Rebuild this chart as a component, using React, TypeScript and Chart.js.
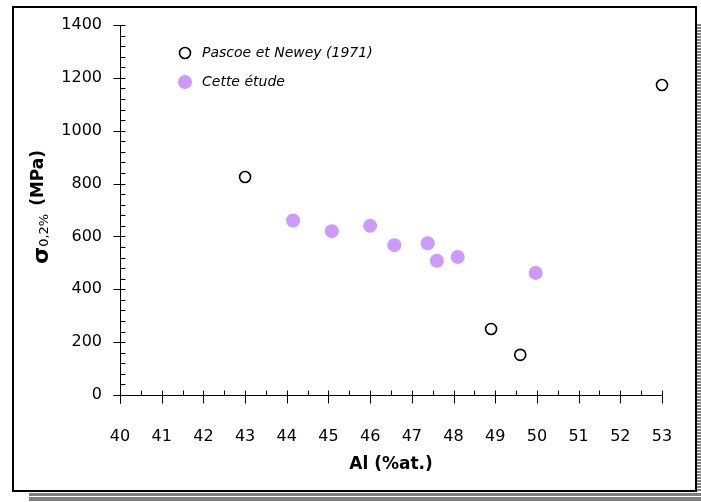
import React, { useEffect, useRef } from "react";
import { Chart, registerables } from "chart.js";

Chart.register(...registerables);

const pascoeX = [43, 48.9, 49.6, 53];
const pascoeY = [825, 250, 152, 1173];
const etudeX = [44.15, 45.08, 46.0, 46.58, 47.38, 47.6, 48.1, 49.97];
const etudeY = [660, 620, 640, 567, 574, 508, 522, 462];
const seriesNames = ["Pascoe et Newey (1971)", "Cette étude"];
const xTitle = "Al (%at.)";
const yTitleMain = "σ";
const yTitleSub = "0,2%";
const yTitleUnit = "(MPa)";

const FONT = "'DejaVu Sans', sans-serif";
const PURPLE = "#cc99ff";

const decor = {
  id: "decor",
  beforeDraw(chart: any) {
    const ctx = chart.ctx;
    ctx.save();
    ctx.fillStyle = "#ffffff";
    ctx.fillRect(0, 0, chart.width, chart.height);
    ctx.fillStyle = "#808080";
    for (let y = 24; y < 492; y += 3) ctx.fillRect(697, y, 4, 2);
    ctx.fillRect(29, 493, 672, 3);
    ctx.fillRect(29, 497, 672, 4);
    ctx.strokeStyle = "#000";
    ctx.lineWidth = 2;
    ctx.strokeRect(13, 7, 683, 484);
    ctx.restore();
  },
  beforeDatasetsDraw(chart: any) {
    const ctx = chart.ctx;
    const xs = chart.scales.x;
    const ys = chart.scales.y;
    const x0 = Math.round(xs.getPixelForValue(40)) + 0.5;
    const y0 = Math.round(ys.getPixelForValue(0)) + 0.5;
    const yTop = ys.getPixelForValue(1400);
    const xEnd = xs.getPixelForValue(53);
    ctx.save();
    ctx.strokeStyle = "#000";
    ctx.lineWidth = 1;
    ctx.beginPath();
    ctx.moveTo(x0, yTop);
    ctx.lineTo(x0, y0 + 8);
    ctx.moveTo(x0 - 7, y0);
    ctx.lineTo(xEnd, y0);
    for (let v = 0; v <= 1400; v += 40) {
      const py = Math.round(ys.getPixelForValue(v)) + 0.5;
      if (v % 200 === 0) {
        ctx.moveTo(x0 - 7, py);
        ctx.lineTo(x0 + 5, py);
      } else {
        ctx.moveTo(x0, py);
        ctx.lineTo(x0 + 5, py);
      }
    }
    for (let k = 0; k <= 26; k++) {
      const v = 40 + k * 0.5;
      const px = Math.round(xs.getPixelForValue(v)) + 0.5;
      if (k % 2 === 0) {
        ctx.moveTo(px, y0 - 5);
        ctx.lineTo(px, y0 + 8);
      } else {
        ctx.moveTo(px, y0 - 5);
        ctx.lineTo(px, y0);
      }
    }
    ctx.stroke();
    ctx.restore();
  },
  afterDraw(chart: any) {
    const ctx = chart.ctx;
    const xs = chart.scales.x;
    ctx.save();
    ctx.fillStyle = "#000";
    ctx.font = `bold 17px ${FONT}`;
    ctx.textAlign = "center";
    ctx.textBaseline = "middle";
    ctx.fillText(xTitle, (xs.left + xs.right) / 2, 465);
    // y title
    ctx.translate(0, 264);
    ctx.rotate(-Math.PI / 2);
    ctx.textAlign = "left";
    ctx.textBaseline = "alphabetic";
    ctx.font = `bold 22px ${FONT}`;
    ctx.fillText(yTitleMain, 0, 48);
    const w1 = ctx.measureText(yTitleMain).width;
    ctx.font = `13px ${FONT}`;
    ctx.fillText(yTitleSub, w1, 48);
    const w2 = ctx.measureText(yTitleSub).width;
    ctx.font = `bold 17px ${FONT}`;
    ctx.fillText(yTitleUnit, w1 + w2 + 8, 43);
    ctx.setTransform(1, 0, 0, 1, 0, 0);
    // legend
    const items = [
      { y: 53, hollow: true },
      { y: 82, hollow: false },
    ];
    items.forEach((it, i) => {
      ctx.beginPath();
      if (it.hollow) {
        ctx.arc(185, it.y, 5.5, 0, Math.PI * 2);
        ctx.lineWidth = 1.6;
        ctx.strokeStyle = "#000";
        ctx.stroke();
      } else {
        ctx.arc(185, it.y, 7, 0, Math.PI * 2);
        ctx.fillStyle = PURPLE;
        ctx.fill();
      }
      ctx.fillStyle = "#000";
      ctx.font = `italic 14px ${FONT}`;
      ctx.textAlign = "left";
      ctx.textBaseline = "middle";
      ctx.fillText(seriesNames[i], 202, it.y);
    });
    ctx.restore();
  },
};

export default function App() {
  const ref = useRef<HTMLCanvasElement>(null);
  useEffect(() => {
    document.body.style.margin = "0";
    const chart = new Chart(ref.current as HTMLCanvasElement, {
      type: "scatter",
      data: {
        datasets: [
          {
            label: seriesNames[0],
            data: pascoeX.map((x, i) => ({ x, y: pascoeY[i] })),
            pointStyle: "circle",
            pointRadius: 5.5,
            pointBorderWidth: 1.6,
            borderColor: "#000",
            backgroundColor: "#ffffff",
            clip: false,
          },
          {
            label: seriesNames[1],
            data: etudeX.map((x, i) => ({ x, y: etudeY[i] })),
            pointStyle: "circle",
            pointRadius: 7,
            pointBorderWidth: 0,
            borderColor: PURPLE,
            backgroundColor: PURPLE,
            clip: false,
          },
        ],
      },
      options: {
        responsive: false,
        animation: false,
        devicePixelRatio: 1,
        layout: { padding: { left: 0, top: 25, right: 39, bottom: 0 } },
        plugins: { legend: { display: false }, tooltip: { enabled: false } },
        scales: {
          x: {
            type: "linear",
            min: 40,
            max: 53,
            afterFit: (s: any) => {
              s.height = 107;
              s.paddingLeft = 0;
              s.paddingRight = 0;
            },
            grid: { display: false, drawTicks: false },
            border: { display: false },
            ticks: {
              stepSize: 1,
              padding: 32,
              color: "#000",
              font: { family: FONT, size: 16 },
              callback: (v: any) => String(v),
            },
          },
          y: {
            type: "linear",
            min: 0,
            max: 1400,
            afterFit: (s: any) => {
              s.width = 120;
              s.paddingTop = 0;
              s.paddingBottom = 0;
            },
            grid: { display: false, drawTicks: false },
            border: { display: false },
            ticks: {
              stepSize: 200,
              padding: 18,
              color: "#000",
              font: { family: FONT, size: 16 },
              callback: (v: any) => String(v),
            },
          },
        },
      },
      plugins: [decor],
    } as any);
    return () => chart.destroy();
  }, []);
  return (
    <div style={{ position: "absolute", left: 0, top: 0, width: 701, height: 502 }}>
      <canvas ref={ref} width={701} height={502} />
    </div>
  );
}
